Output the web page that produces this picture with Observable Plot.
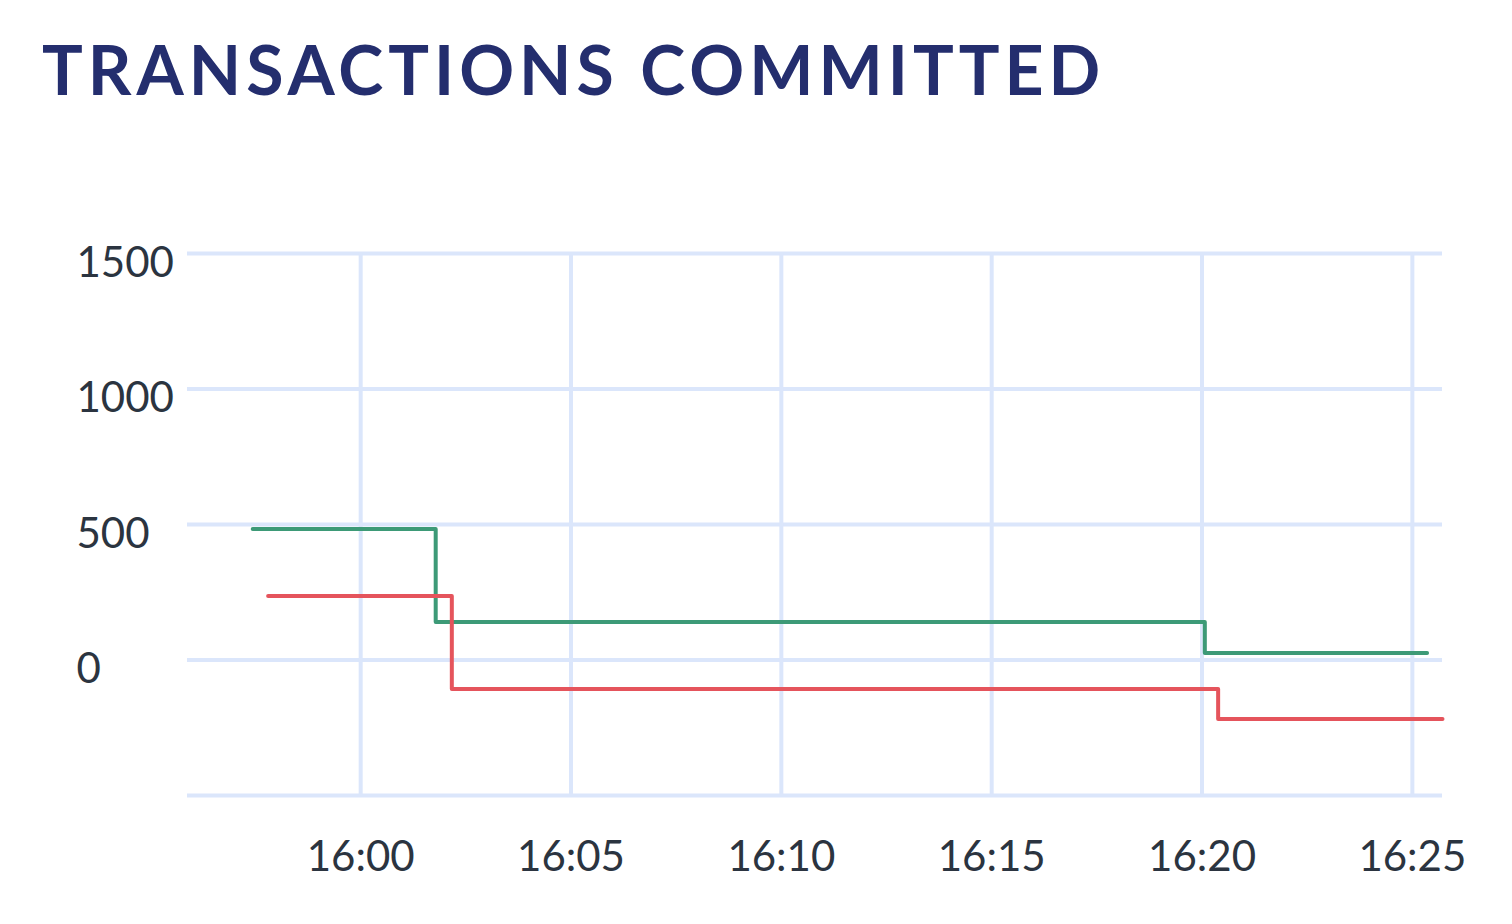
<!DOCTYPE html>
<html>
<head>
<meta charset="utf-8">
<script src="https://cdn.jsdelivr.net/npm/d3@7"></script>
<script src="https://cdn.jsdelivr.net/npm/@observablehq/plot@0.6"></script>
<style>
  body { margin: 0; background: #fff; font-family: Lato, "Open Sans", sans-serif; }
  h1 { margin: 0; padding: 28px 0 0 42px; height: 102px; box-sizing: border-box; font-size: 68px; font-weight: 700; color: #242e6e; letter-spacing: 5px; }
</style>
</head>
<body>
<h1>TRANSACTIONS COMMITTED</h1>
<div id="chart"></div>
<script>
const t = s => new Date("2024-01-01T" + s + "Z")

// green series
const greenTimes = ["15:57:26", "16:01:47", "16:20:04", "16:25:21"]
const greenValues = [483, 140, 26, 26]
// red series
const redTimes = ["15:57:48", "16:02:10", "16:20:23", "16:25:43"]
const redValues = [236, -107, -218, -218]

const yTicks = [-500, 0, 500, 1000, 1500]
const xTicks = ["16:00:00", "16:05:00", "16:10:00", "16:15:00", "16:20:00", "16:25:00"].map(t)

const green = greenTimes.map((d, i) => ({time: t(d), value: greenValues[i]}))
const red = redTimes.map((d, i) => ({time: t(d), value: redValues[i]}))

const chart = Plot.plot({
  width: 1512,
  height: 822,
  marginTop: 151,
  marginLeft: 187,
  marginRight: 70,
  marginBottom: 129,
  style: {fontSize: "42px", fontFamily: "Lato, sans-serif", color: "#2b3440"},
  x: {type: "utc", domain: [t("15:55:53"), t("16:25:43")], ticks: xTicks, tickFormat: d3.utcFormat("%H:%M"), label: null},
  y: {domain: [-500, 1500], ticks: yTicks, label: null},
  marks: [
    Plot.gridY(yTicks, {stroke: "#dbe6fb", strokeOpacity: 1, strokeWidth: 4}),
    Plot.gridX(xTicks, {stroke: "#dbe6fb", strokeOpacity: 1, strokeWidth: 4}),
    Plot.axisY(yTicks, {tickSize: 0, textAnchor: "start", dx: -102, dy: 10, tickFormat: d => d < 0 ? "" : String(d)}),
    Plot.axisX(xTicks, {tickSize: 0, tickPadding: 46, tickFormat: d3.utcFormat("%H:%M")}),
    Plot.line(green, {x: "time", y: "value", curve: "step-after", stroke: "#3d9a77", strokeWidth: 4}),
    Plot.line(red, {x: "time", y: "value", curve: "step-after", stroke: "#e5545c", strokeWidth: 4})
  ]
})

d3.select("#chart").append(() => chart)
</script>
</body>
</html>
